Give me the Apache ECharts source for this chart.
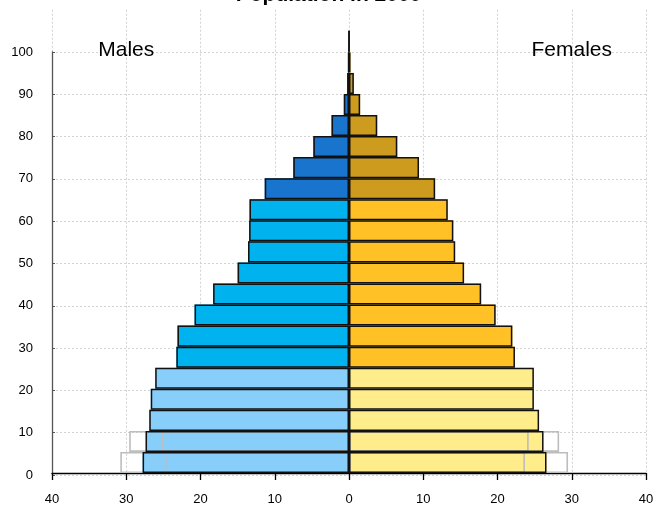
<!DOCTYPE html>
<html>
<head>
<meta charset="utf-8">
<script src="https://cdn.jsdelivr.net/npm/echarts@6/dist/echarts.min.js"></script>
<style>
html,body{margin:0;padding:0;background:#fff;}
#c{width:657px;height:506px;}
</style>
</head>
<body>
<div id="c"></div>
<script>
// ---- data ----
var ageGroups = ['0-4','5-9','10-14','15-19','20-24','25-29','30-34','35-39','40-44','45-49','50-54','55-59','60-64','65-69','70-74','75-79','80-84','85-89','90-94','95-99','100+'];
var malesPct = [27.8,27.4,26.9,26.7,26.1,23.25,23.1,20.8,18.3,15.0,13.6,13.45,13.4,11.35,7.5,4.8,2.35,0.7,0.25,0.12,0.02];
var femalesPct = [26.6,26.2,25.6,24.9,24.9,22.35,22.0,19.75,17.8,15.5,14.3,14.05,13.3,11.6,9.43,6.5,3.8,1.5,0.65,0.2,0.03];
var malesOuterRef = [30.8,29.6];
var femalesOuterRef = [29.5,28.3];
var malesInnerRef = [24.8,25.2];
var femalesInnerRef = [23.7,24.2];
var xTicks = [-40,-30,-20,-10,0,10,20,30,40];
var yTicks = [0,10,20,30,40,50,60,70,80,90,100];
var sideLabels = [['Males',-30,100.4],['Females',30,100.4]];

var maleColors = ['#87CEFA','#00B2EE','#1874CD'];
var femaleColors = ['#FFEC8B','#FFC125','#CD9B1D'];
function band(i){ return i < 5 ? 0 : (i < 13 ? 1 : 2); }

var cats = ageGroups.concat(['']);
function neg(a){ return a.map(function(v){ return -v; }); }
function pad(a){ var r = a.slice(); while (r.length < cats.length) r.push('-'); return r; }

var font = 'Liberation Sans, Arial, Helvetica, sans-serif';
var gridLine = { type:[2,2], color:'#d2d2d2', width:1 };
var common = { type:'bar', xAxisIndex:0, yAxisIndex:1, barWidth:'100%', barGap:'-100%', barCategoryGap:'0%', silent:true, animation:false };
function mk(name, data, style, z){
  return Object.assign({}, common, { name:name, data:pad(data), itemStyle:style, z:z });
}

var chart = echarts.init(document.getElementById('c'));
chart.setOption({
  animation:false,
  title:{ text:'Population in 2000', left:'center', top:-20, textStyle:{ fontFamily:font, fontSize:21, fontWeight:'bold', color:'#000' } },
  grid:[
    { left:52, right:11, top:9.7, bottom:31 },
    { left:52, right:11, top:52, bottom:31 }
  ],
  xAxis:[
    { type:'value', gridIndex:0, min:-40, max:40, interval:10,
      axisLine:{ show:true, onZero:false, lineStyle:{ color:'#000', width:1.3 } },
      axisTick:{ show:true, length:7, lineStyle:{ color:'#000', width:1.3 } },
      axisLabel:{ fontFamily:font, fontSize:13, color:'#000', margin:20, formatter:function(v){ return Math.abs(v); } },
      splitLine:{ show:true, lineStyle:gridLine } },
    { type:'value', gridIndex:1, min:-40, max:40, show:false }
  ],
  yAxis:[
    { type:'value', gridIndex:0, min:0, max:110, interval:10, show:false },
    { type:'category', gridIndex:0, data:cats, show:false, position:'left' },
    { type:'value', gridIndex:1, min:0, max:100, interval:10, position:'left',
      axisLine:{ show:true, onZero:false, lineStyle:{ color:'#555', width:1.3 } },
      axisTick:{ show:true, inside:true, length:3, lineStyle:{ color:'#555' } },
      axisLabel:{ fontFamily:font, fontSize:13, color:'#000', margin:19 },
      splitLine:{ show:true, lineStyle:gridLine } }
  ],
  series:[
    mk('mOuter', neg(malesOuterRef), { color:'rgba(0,0,0,0)', borderColor:'#bdbdbd', borderWidth:1.6 }, 1),
    mk('fOuter', femalesOuterRef, { color:'rgba(0,0,0,0)', borderColor:'#bdbdbd', borderWidth:1.6 }, 1),
    mk('males', neg(malesPct), { color:function(p){ return maleColors[band(p.dataIndex)]; } }, 2),
    mk('females', femalesPct, { color:function(p){ return femaleColors[band(p.dataIndex)]; } }, 2),
    mk('mInner', neg(malesInnerRef), { color:'rgba(0,0,0,0)', borderColor:'#bdbdbd', borderWidth:1.6 }, 3),
    mk('fInner', femalesInnerRef, { color:'rgba(0,0,0,0)', borderColor:'#bdbdbd', borderWidth:1.6 }, 3),
    mk('mBorder', neg(malesPct), { color:'rgba(0,0,0,0)', borderColor:'#111', borderWidth:1.5 }, 4),
    mk('fBorder', femalesPct, { color:'rgba(0,0,0,0)', borderColor:'#111', borderWidth:1.5 }, 4),
    { type:'scatter', xAxisIndex:0, yAxisIndex:0, symbolSize:0, silent:true, z:5,
      itemStyle:{ opacity:1 },
      data:sideLabels.map(function(d){ return { value:[d[1], d[2]], name:d[0] }; }),
      label:{ show:true, position:'inside', formatter:function(p){ return p.name; }, fontFamily:font, fontSize:21, color:'#000', opacity:1, textBorderWidth:0 } }
  ]
});
</script>
</body>
</html>
